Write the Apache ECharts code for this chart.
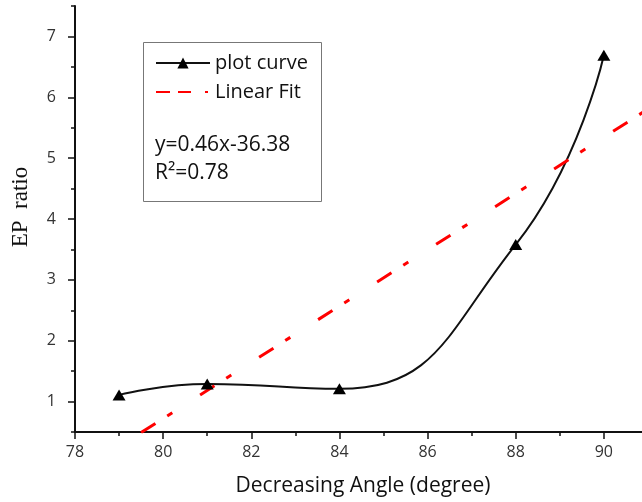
<!DOCTYPE html>
<html>
<head>
<meta charset="utf-8">
<script src="https://cdn.jsdelivr.net/npm/echarts@6/dist/echarts.min.js"></script>
<style>
  html, body { margin: 0; padding: 0; background: #fff; }
  #chart { width: 642px; height: 502px; }
</style>
</head>
<body>
<div id="chart"></div>
<script>
// Measured points (decreasing angle vs EP ratio)
const angles = [79, 81, 84, 88, 90];
const epRatio = [1.11, 1.29, 1.21, 3.58, 6.69];

// Linear fit line, two ends
const fitX = [79.5, 93];
const fitY = [0.49, 6.73];

// Tick labels
const yLabels = [1, 2, 3, 4, 5, 6, 7];
const xLabels = [78, 80, 82, 84, 86, 88, 90];

const font = 'Open Sans';

const chart = echarts.init(document.getElementById('chart'));

const option = {
    animation: false,
    // x axis runs on past the right edge (picture is cropped there)
    grid: { left: 75, top: 6, right: -50, bottom: 70, outerBoundsMode: 'none', containLabel: false },
    legend: {
        left: 155,
        top: 53,
        padding: 0,
        orient: 'vertical',
        itemWidth: 54,
        itemHeight: 14,
        itemGap: 9,
        textStyle: { fontFamily: font, fontSize: 20, color: '#111' },
        data: [
            { name: 'plot curve' },
            {
                name: 'Linear Fit',
                itemStyle: { opacity: 0 },
                lineStyle: { type: [14, 8, 13, 14, 3, 2] }
            }
        ]
    },
    xAxis: {
        type: 'value',
        min: 78,
        max: 92,
        interval: 2,
        name: 'Decreasing Angle (degree)',
        nameLocation: 'middle',
        nameGap: 44,
        nameTextStyle: { fontFamily: font, fontSize: 21, color: '#111', padding: [0, 41, 0, 0] },
        axisLine: { lineStyle: { color: '#111', width: 2 } },
        axisTick: { length: 7, lineStyle: { color: '#111', width: 1.5 } },
        minorTick: { show: true, splitNumber: 2, length: 4, lineStyle: { color: '#111', width: 1.5 } },
        axisLabel: {
            fontFamily: font, fontSize: 16, color: '#333', margin: 12,
            formatter: v => xLabels.includes(v) ? String(v) : ''
        },
        splitLine: { show: false }
    },
    yAxis: [
        {
            type: 'value',
            min: 0.5,
            max: 7.5,
            axisLine: { show: true, lineStyle: { color: '#111', width: 2 } },
            axisTick: { show: true, length: 7, customValues: yLabels, lineStyle: { color: '#111', width: 1.5 } },
            axisLabel: { fontFamily: font, fontSize: 16, color: '#333', margin: 19, customValues: yLabels },
            splitLine: { show: false }
        },
        {
            // minor ticks every 0.5
            type: 'value',
            position: 'left',
            min: 0.5,
            max: 7.5,
            interval: 0.5,
            axisLine: { show: false },
            axisTick: { show: true, length: 4, lineStyle: { color: '#111', width: 1.5 } },
            axisLabel: { show: false },
            splitLine: { show: false }
        }
    ],
    graphic: [
        {
            // y axis title
            type: 'text',
            x: 21, y: 207,
            rotation: Math.PI / 2,
            style: {
                text: 'EP  ratio', font: '23px "Liberation Serif"', fill: '#111',
                textAlign: 'center', textVerticalAlign: 'middle'
            }
        },
        {
            type: 'rect',
            shape: { x: 143.5, y: 42.5, width: 178, height: 159 },
            style: { fill: 'none', stroke: '#777', lineWidth: 1 }
        },
        {
            type: 'text',
            x: 155, y: 145,
            style: { text: 'y=0.46x-36.38', font: '21px "Open Sans"', fill: '#111', textVerticalAlign: 'middle' }
        },
        {
            type: 'text',
            x: 155, y: 173,
            style: { text: 'R²=0.78', font: '21px "Open Sans"', fill: '#111', textVerticalAlign: 'middle' }
        }
    ],
    series: [
        {
            name: 'plot curve',
            type: 'line',
            smooth: true,
            data: angles.map((a, i) => [a, epRatio[i]]),
            symbol: 'triangle',
            symbolSize: [13, 11],
            itemStyle: { color: '#000' },
            lineStyle: { color: '#111', width: 2 }
        },
        {
            name: 'Linear Fit',
            type: 'line',
            data: fitX.map((x, i) => [x, fitY[i]]),
            symbol: 'none',
            itemStyle: { color: '#f00' },
            lineStyle: { color: '#f00', width: 3, type: [17, 14, 6, 33] }
        }
    ]
};

chart.setOption(option);
</script>
</body>
</html>
